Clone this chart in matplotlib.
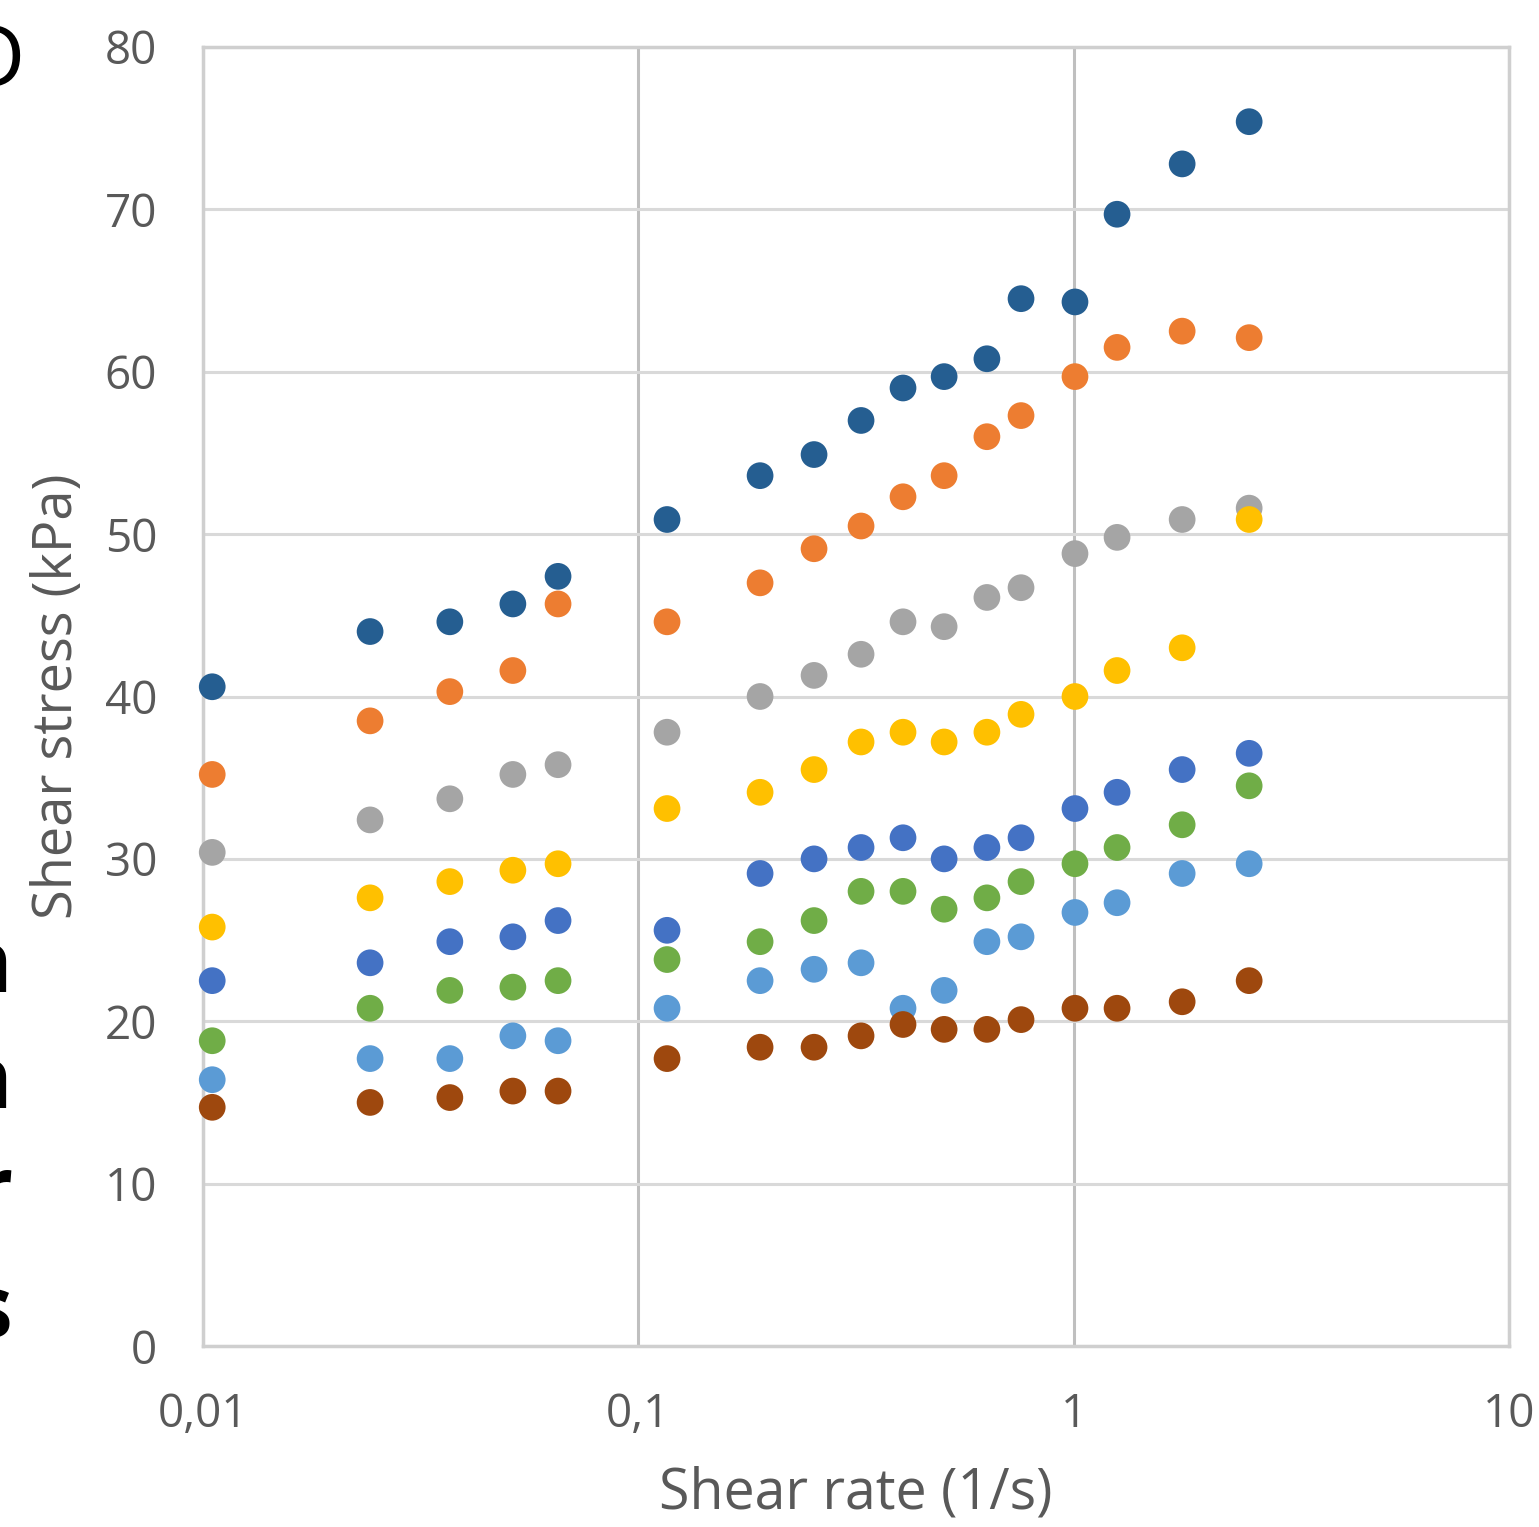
import numpy as np
import matplotlib
matplotlib.use("Agg")
import matplotlib.pyplot as plt
from matplotlib.ticker import FixedLocator, FixedFormatter, NullLocator

# shear rate (1/s), common to all series
shear_rate = [0.0105, 0.0242, 0.0369, 0.0515, 0.0654, 0.1164, 0.1904, 0.2533, 0.3248,
              0.4055, 0.504, 0.632, 0.757, 1.007, 1.258, 1.775, 2.53]

# shear stress (kPa) per series
s_darkblue = [40.6, 44.0, 44.6, 45.7, 47.4, 50.9, 53.6, 54.9, 57.0, 59.0, 59.7, 60.8, 64.5, 64.3, 69.7, 72.8, 75.4]
s_orange = [35.2, 38.5, 40.3, 41.6, 45.7, 44.6, 47.0, 49.1, 50.5, 52.3, 53.6, 56.0, 57.3, 59.7, 61.5, 62.5, 62.1]
s_gray = [30.4, 32.4, 33.7, 35.2, 35.8, 37.8, 40.0, 41.3, 42.6, 44.6, 44.3, 46.1, 46.7, 48.8, 49.8, 50.9, 51.6]
s_yellow = [25.8, 27.6, 28.6, 29.3, 29.7, 33.1, 34.1, 35.5, 37.2, 37.8, 37.2, 37.8, 38.9, 40.0, 41.6, 43.0, 50.9]
s_blue = [22.5, 23.6, 24.9, 25.2, 26.2, 25.6, 29.1, 30.0, 30.7, 31.3, 30.0, 30.7, 31.3, 33.1, 34.1, 35.5, 36.5]
s_green = [18.8, 20.8, 21.9, 22.1, 22.5, 23.8, 24.9, 26.2, 28.0, 28.0, 26.9, 27.6, 28.6, 29.7, 30.7, 32.1, 34.5]
s_lightblue = [16.4, 17.7, 17.7, 19.1, 18.8, 20.8, 22.5, 23.2, 23.6, 20.8, 21.9, 24.9, 25.2, 26.7, 27.3, 29.1, 29.7]
s_brown = [14.7, 15.0, 15.3, 15.7, 15.7, 17.7, 18.4, 18.4, 19.1, 19.8, 19.5, 19.5, 20.1, 20.8, 20.8, 21.2, 22.5]

series = [s_darkblue, s_orange, s_gray, s_yellow, s_blue, s_green, s_lightblue, s_brown]
colors = ["#255E91", "#ED7D31", "#A5A5A5", "#FFC000", "#4472C4", "#70AD47", "#5B9BD5", "#9E480E"]

x_ticks = [0.01, 0.1, 1, 10]
x_ticklabels = ["0,01", "0,1", "1", "10"]
y_ticks = [0, 10, 20, 30, 40, 50, 60, 70, 80]

plt.rcParams["font.family"] = ["Open Sans", "DejaVu Sans"]

fig = plt.figure(figsize=(15.39, 15.27), dpi=100)
ax = fig.add_axes([203 / 1539, 1 - 1346 / 1527, (1509 - 203) / 1539, (1346 - 47) / 1527])

for vals, c in zip(series, colors):
    ax.scatter(shear_rate, vals, s=370, color=c, edgecolors="none", zorder=3, clip_on=False)

ax.set_xscale("log")
ax.set_xlim(0.01, 10)
ax.set_ylim(0, 80)
ax.xaxis.set_major_locator(FixedLocator(x_ticks))
ax.xaxis.set_major_formatter(FixedFormatter(x_ticklabels))
ax.xaxis.set_minor_locator(NullLocator())
ax.set_yticks(y_ticks)

ax.grid(True, axis="y", color="#D9D9D9", lw=2.2, zorder=0)
ax.grid(True, axis="x", color="#BFBFBF", lw=2.2, zorder=0)
for sp in ax.spines.values():
    sp.set_color("#CFCFCF")
    sp.set_linewidth(2.5)

ax.tick_params(axis="both", length=0, colors="#595959", labelsize=33)
ax.tick_params(axis="x", pad=33)
ax.tick_params(axis="y", pad=33)

ax.set_xlabel("Shear rate (1/s)", color="#595959", fontsize=40, labelpad=20)
ax.set_ylabel("Shear stress (kPa)", color="#595959", fontsize=39, labelpad=14)

# cropped slide text at the left edge
fig.text(25 / 1539, 1 - 65 / 1527, "D", ha="right", va="center", fontsize=62, color="black")
for ypix, ch in [(970, "n"), (1085, "n"), (1195, "r"), (1315, "s")]:
    fig.text(12 / 1539, 1 - ypix / 1527, ch, ha="right", va="center", fontsize=62,
             color="black", fontweight="bold")

fig.savefig("out.png", dpi=100, facecolor="white")
